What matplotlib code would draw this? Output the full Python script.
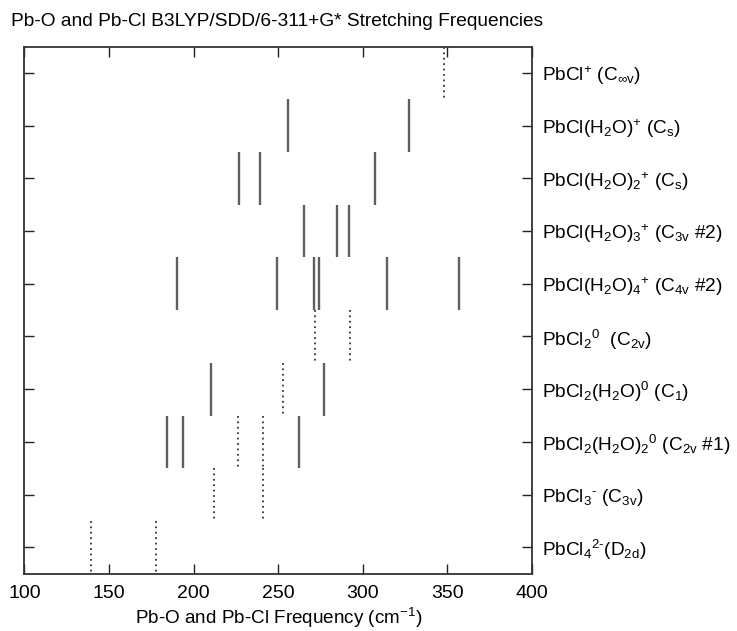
import matplotlib.pyplot as plt

plt.rcParams['font.family'] = ['Liberation Sans', 'DejaVu Sans']
plt.rcParams['mathtext.fontset'] = 'custom'
plt.rcParams['mathtext.rm'] = 'Liberation Sans'
plt.rcParams['mathtext.default'] = 'regular'

# species, top to bottom
species = [
    r'PbCl$^{+}$ (C$_{\infty v}$)',
    r'PbCl(H$_2$O)$^{+}$ (C$_s$)',
    r'PbCl(H$_2$O)$_2$$^{+}$ (C$_s$)',
    r'PbCl(H$_2$O)$_3$$^{+}$ (C$_{3v}$ #2)',
    r'PbCl(H$_2$O)$_4$$^{+}$ (C$_{4v}$ #2)',
    r'PbCl$_2$$^{0}$  (C$_{2v}$)',
    r'PbCl$_2$(H$_2$O)$^{0}$ (C$_1$)',
    r'PbCl$_2$(H$_2$O)$_2$$^{0}$ (C$_{2v}$ #1)',
    r'PbCl$_3$$^{\text{-}}$ (C$_{3v}$)',
    r'PbCl$_4$$^{2\text{-}}$(D$_{2d}$)',
]

# Pb-O stretches (solid) and Pb-Cl stretches (dotted), cm^-1
pbo_freqs = [
    [],
    [256, 327],
    [227, 239, 307],
    [265, 285, 292],
    [190, 249, 271, 274, 314, 357],
    [],
    [210, 277],
    [184, 194, 262],
    [],
    [],
]
pbcl_freqs = [
    [348],
    [],
    [],
    [],
    [],
    [272, 292.5],
    [253],
    [226, 241],
    [212, 241],
    [139.5, 178],
]

fig = plt.figure(figsize=(7.37, 6.31), dpi=100)
ax = fig.add_axes([0.033, 0.091, 0.689, 0.835])

for i, name in enumerate(species):
    row = i + 1
    if pbo_freqs[i]:
        ax.vlines(pbo_freqs[i], row - 0.5, row + 0.5, color='#5f5f5f', lw=1.7)
    if pbcl_freqs[i]:
        ax.vlines(pbcl_freqs[i], row - 0.5, row + 0.5, color='#333333', lw=1.3,
                  linestyles=(0, (1, 2)))

ax.set_xlim(100, 400)
ax.set_ylim(10.5, 0.5)
ax.set_xticks([100, 150, 200, 250, 300, 350, 400])
ax.set_yticks(range(1, len(species) + 1))
ax.set_yticklabels(species)
ax.tick_params(direction='in', length=7, width=1, color='#222222',
               top=True, right=True, left=True, bottom=True,
               labelleft=False, labelright=True, labelsize=13.7, pad=7)
ax.tick_params(axis='x', labelsize=14, pad=8)
for s in ax.spines.values():
    s.set_linewidth(1.3)
    s.set_color('#333333')

ax.set_xlabel('Pb-O and Pb-Cl Frequency (cm$^{-1}$)', fontsize=13.6, labelpad=3)
fig.text(0.015, 0.966, 'Pb-O and Pb-Cl B3LYP/SDD/6-311+G* Stretching Frequencies',
         fontsize=13.8, ha='left', va='center')

fig.savefig('out.png', dpi=100)
